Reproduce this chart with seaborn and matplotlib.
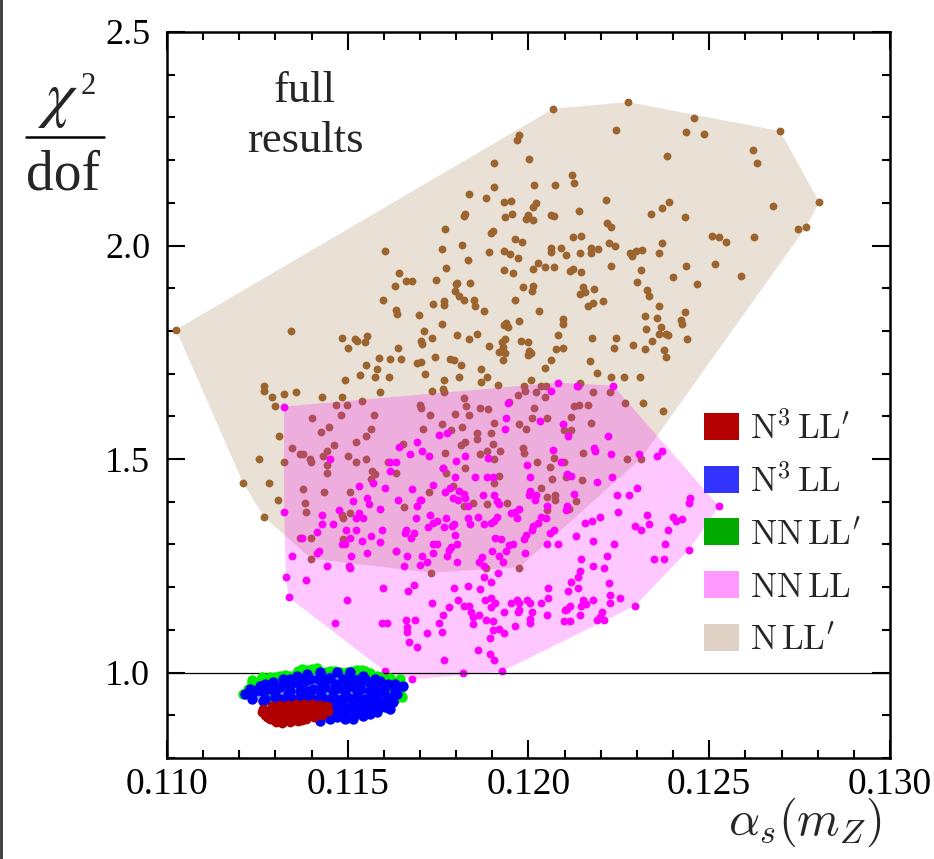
import numpy as np
import matplotlib
matplotlib.use("Agg")
import matplotlib.pyplot as plt
import seaborn as sns
from matplotlib.patches import Rectangle
from matplotlib.lines import Line2D
from matplotlib.ticker import MultipleLocator, FormatStrFormatter

# ---------------- data (alpha_s(mZ), chi2/dof) ----------------
nll_prime_points = [
    (0.12068,2.320),(0.12275,2.336),(0.12458,2.299),(0.12242,2.271),(0.12436,2.266),(0.12486,2.261),
    (0.12696,2.268),(0.11974,2.259),(0.11968,2.247),(0.12621,2.224),(0.12632,2.194),(0.12383,2.210),
    (0.12001,2.203),(0.11905,2.194),(0.12120,2.165),(0.12126,2.147),(0.12015,2.142),(0.12073,2.142),
    (0.11905,2.137),(0.11835,2.121),(0.11882,2.112),(0.11932,2.102),(0.11952,2.105),(0.12021,2.100),
    (0.12012,2.091),(0.12214,2.107),(0.12389,2.102),(0.12369,2.088),(0.12804,2.102),(0.12676,2.093),
    (0.12140,2.081),(0.12339,2.074),(0.12433,2.067),(0.11824,2.074),(0.11822,2.070),(0.11954,2.074),
    (0.11935,2.067),(0.11999,2.072),(0.11993,2.063),(0.12012,2.060),(0.12062,2.072),(0.12071,2.070),
    (0.12217,2.053),(0.12228,2.044),(0.12746,2.039),(0.12768,2.044),(0.11902,2.035),(0.11896,2.030),
    (0.11816,2.002),(0.11963,2.016),(0.11982,2.009),(0.12123,2.020),(0.12145,2.023),(0.12223,2.006),
    (0.12239,1.999),(0.12508,2.023),(0.12527,2.020),(0.12546,2.009),(0.12624,2.020),(0.12369,2.006),
    (0.11833,1.967),(0.11891,1.985),(0.11932,1.988),(0.11949,1.981),(0.11971,1.971),(0.12062,1.995),
    (0.12062,1.985),(0.12090,1.995),(0.12104,1.978),(0.12142,1.983),(0.12173,1.995),(0.12192,1.992),
    (0.12173,1.983),(0.12281,1.983),(0.12286,1.976),(0.12297,1.988),(0.12314,1.990),(0.12361,1.983),
    (0.12228,1.953),(0.12311,1.943),(0.12436,1.953),(0.12516,1.957),(0.12588,1.929),(0.12026,1.960),
    (0.12012,1.946),(0.12046,1.950),(0.12071,1.950),(0.11932,1.943),(0.11957,1.936),(0.12115,1.941),
    (0.12123,1.946),(0.12145,1.939),(0.11802,1.913),(0.11838,1.913),(0.11797,1.894),(0.11808,1.882),
    (0.11822,1.873),(0.11849,1.873),(0.11852,1.859),(0.11877,1.847),(0.11963,1.873),(0.11985,1.904),
    (0.12012,1.906),(0.12010,1.894),(0.12029,1.847),(0.12151,1.904),(0.12142,1.887),(0.12156,1.892),
    (0.12181,1.899),(0.12165,1.859),(0.12178,1.866),(0.12206,1.871),(0.12300,1.915),(0.12328,1.896),
    (0.12333,1.882),(0.12400,1.927),(0.12466,1.911),(0.12361,1.859),(0.12322,1.836),(0.12355,1.831),
    (0.12433,1.845),(0.12422,1.826),(0.12425,1.817),(0.12367,1.810),(0.12380,1.794),(0.12385,1.790),
    (0.12361,1.794),(0.12325,1.805),(0.12438,1.782),(0.12342,1.777),(0.12375,1.756),(0.12380,1.740),
    (0.12322,1.758),(0.12289,1.768),(0.12242,1.784),(0.12237,1.761),(0.12176,1.784),(0.12170,1.730),
    (0.12190,1.702),(0.12228,1.691),(0.12264,1.693),(0.12309,1.693),(0.12095,1.829),(0.12095,1.817),
    (0.12082,1.791),(0.12095,1.761),(0.12076,1.758),(0.12062,1.733),(0.12046,1.714),(0.12142,1.679),
    (0.11974,1.824),(0.11938,1.819),(0.11932,1.815),(0.11943,1.810),(0.11935,1.782),(0.11927,1.773),
    (0.11929,1.763),(0.11918,1.751),(0.11935,1.749),(0.11929,1.733),(0.11979,1.777),(0.11999,1.775),
    (0.12001,1.754),(0.11999,1.744),(0.12007,1.749),(0.11891,1.765),(0.11858,1.794),(0.11835,1.782),
    (0.11802,1.791),(0.11783,1.735),(0.11794,1.733),(0.11813,1.721),(0.11869,1.712),(0.11808,1.693),
    (0.11869,1.681),(0.11885,1.691),(0.11916,1.674),(0.12007,1.686),(0.11769,2.039),(0.11761,1.992),
    (0.11603,1.988),(0.11772,1.948),(0.11642,1.936),(0.11661,1.918),(0.11678,1.918),(0.11631,1.906),
    (0.11744,1.920),(0.11799,1.911),(0.11598,1.873),(0.11633,1.850),(0.11636,1.840),(0.11697,1.838),
    (0.11736,1.864),(0.11766,1.871),(0.11766,1.861),(0.11761,1.817),(0.11025,1.803),(0.11343,1.801),
    (0.11484,1.784),(0.11520,1.780),(0.11526,1.777),(0.11548,1.775),(0.11553,1.787),(0.11501,1.761),
    (0.11639,1.761),(0.11711,1.801),(0.11703,1.777),(0.11705,1.770),(0.11733,1.784),(0.11586,1.737),
    (0.11550,1.721),(0.11581,1.712),(0.11617,1.735),(0.11647,1.735),(0.11692,1.726),(0.11703,1.728),
    (0.11741,1.740),(0.11534,1.698),(0.11575,1.691),(0.11614,1.691),(0.11492,1.684),(0.11714,1.700),
    (0.11766,1.684),(0.11589,1.658),(0.11733,1.660),(0.11764,1.665),(0.11766,1.658),(0.11268,1.672),
    (0.11268,1.660),(0.11290,1.646),(0.11324,1.653),(0.11357,1.656),(0.11429,1.646),(0.11484,1.646),
    (0.11539,1.637),(0.11299,1.625),(0.11468,1.627),(0.11498,1.627),(0.11481,1.604),(0.11573,1.602),
    (0.11700,1.627),(0.11703,1.620),(0.11728,1.602),(0.11797,1.606),(0.11401,1.595),(0.11448,1.576),
    (0.11426,1.564),(0.11564,1.571),(0.11550,1.555),(0.11708,1.571),(0.11761,1.583),(0.11786,1.567),
    (0.11310,1.555),(0.11346,1.525),(0.11368,1.513),(0.11376,1.513),(0.11396,1.501),(0.11398,1.492),
    (0.11432,1.506),(0.11443,1.520),(0.11462,1.534),(0.11523,1.539),(0.11501,1.508),(0.11523,1.494),
    (0.11550,1.501),(0.11443,1.485),(0.11443,1.468),(0.11255,1.499),(0.11324,1.492),(0.11653,1.536),
    (0.11611,1.492),(0.11633,1.468),(0.11769,1.515),(0.11764,1.478),(0.11772,1.468),(0.11567,1.473),
    (0.11575,1.464),(0.11564,1.454),(0.11210,1.445),(0.11282,1.445),(0.11376,1.431),(0.11434,1.424),
    (0.11506,1.422),(0.11725,1.422),(0.11791,1.436),(0.11307,1.403),(0.11382,1.396),(0.11385,1.375),
    (0.11268,1.365),(0.11484,1.370),(0.11487,1.361),(0.11506,1.373),(0.11656,1.387),(0.11368,1.316),
    (0.11398,1.314),(0.11487,1.312),(0.11633,1.284),(0.11730,1.234),(0.11398,1.267),(0.11988,1.670),
    (0.11990,1.660),(0.12021,1.656),(0.12035,1.672),(0.12048,1.670),(0.12046,1.646),(0.11971,1.649),
    (0.11822,1.644),(0.12137,1.670),(0.12178,1.656),(0.12225,1.656),(0.12267,1.632),(0.12317,1.632),
    (0.12372,1.613),(0.11827,1.625),(0.11866,1.620),(0.11888,1.618),(0.11835,1.604),(0.11946,1.634),
    (0.12015,1.620),(0.12126,1.625),(0.12140,1.627),(0.12165,1.627),(0.12051,1.597),(0.12010,1.595),
    (0.11974,1.583),(0.11993,1.571),(0.11816,1.576),(0.11905,1.585),(0.11896,1.562),(0.11858,1.560),
    (0.11858,1.548),(0.11902,1.536),(0.11813,1.534),(0.11824,1.541),(0.12098,1.569),(0.12118,1.567),
    (0.12118,1.599),(0.12173,1.585),(0.11866,1.513),(0.11885,1.520),(0.11921,1.518),(0.11905,1.499),
    (0.11985,1.527),(0.11988,1.515),(0.12024,1.492),(0.12071,1.503),(0.12060,1.482),(0.12098,1.494),
    (0.12151,1.515),(0.12272,1.501),(0.12311,1.501),(0.11824,1.478),(0.11918,1.461),(0.11905,1.445),
    (0.12065,1.454),(0.12104,1.457),(0.12148,1.452),(0.12035,1.433),(0.12073,1.417),(0.12051,1.410),
    (0.12073,1.405),(0.12131,1.401),(0.11847,1.398),(0.11822,1.389),(0.11885,1.394),(0.11941,1.396),
    (0.12051,1.380),(0.12112,1.382),(0.11974,1.246),(0.11882,1.244),
]

nnll_points = [
    (0.12082,1.679),(0.12134,1.672),(0.12234,1.672),(0.12062,1.660),(0.11943,1.632),(0.11938,1.597),
    (0.11935,1.571),(0.12032,1.588),(0.12095,1.583),(0.12109,1.555),(0.12220,1.553),(0.11752,1.557),
    (0.11775,1.560),(0.11705,1.518),(0.11725,1.508),(0.11799,1.496),(0.11824,1.506),(0.11888,1.503),
    (0.12068,1.522),(0.12090,1.492),(0.12181,1.525),(0.12184,1.520),(0.12228,1.513),(0.12306,1.513),
    (0.12355,1.508),(0.12369,1.518),(0.11764,1.478),(0.11797,1.459),(0.11852,1.459),(0.11885,1.459),
    (0.11902,1.459),(0.11996,1.485),(0.12004,1.459),(0.12107,1.464),(0.12118,1.461),(0.12190,1.447),
    (0.12231,1.459),(0.11736,1.440),(0.11769,1.424),(0.11783,1.433),(0.11808,1.426),(0.11791,1.408),
    (0.11805,1.405),(0.11822,1.419),(0.11824,1.408),(0.11833,1.391),(0.11874,1.417),(0.11905,1.415),
    (0.11913,1.401),(0.11918,1.394),(0.12004,1.426),(0.12001,1.415),(0.12021,1.417),(0.12018,1.405),
    (0.12126,1.419),(0.12051,1.391),(0.12107,1.389),(0.12104,1.380),(0.12245,1.415),(0.12278,1.417),
    (0.12300,1.433),(0.12444,1.398),(0.12447,1.408),(0.12527,1.389),(0.11700,1.403),(0.11728,1.368),
    (0.11722,1.342),(0.11736,1.351),(0.11747,1.356),(0.11772,1.361),(0.11766,1.342),(0.11788,1.344),
    (0.11794,1.347),(0.11797,1.323),(0.11833,1.361),(0.11838,1.349),(0.11860,1.365),(0.11877,1.347),
    (0.11896,1.351),(0.11905,1.354),(0.11913,1.365),(0.11952,1.373),(0.11963,1.375),(0.11974,1.384),
    (0.11968,1.361),(0.12026,1.351),(0.12035,1.365),(0.12048,1.361),(0.12010,1.335),(0.12012,1.344),
    (0.11993,1.323),(0.12060,1.328),(0.12071,1.333),(0.12176,1.354),(0.12156,1.351),(0.12198,1.365),
    (0.12248,1.375),(0.12328,1.370),(0.12333,1.347),(0.12295,1.344),(0.12311,1.333),(0.12400,1.365),
    (0.12408,1.354),(0.12425,1.359),(0.12386,1.333),(0.11736,1.302),(0.11747,1.302),(0.11736,1.281),
    (0.11775,1.272),(0.11786,1.293),(0.11780,1.288),(0.11802,1.302),(0.11802,1.258),(0.11705,1.274),
    (0.11719,1.260),(0.11700,1.253),(0.11899,1.284),(0.11907,1.314),(0.11924,1.312),(0.11938,1.284),
    (0.11946,1.298),(0.11957,1.302),(0.11990,1.281),(0.11988,1.312),(0.12051,1.300),(0.12082,1.300),
    (0.12131,1.319),(0.12178,1.309),(0.12237,1.300),(0.12378,1.300),(0.12444,1.288),(0.11863,1.258),
    (0.11871,1.270),(0.11877,1.249),(0.11918,1.272),(0.11929,1.260),(0.11916,1.234),(0.12145,1.265),
    (0.12217,1.272),(0.12178,1.249),(0.12209,1.246),(0.12347,1.267),(0.12375,1.265),(0.11877,1.223),
    (0.11896,1.213),(0.11794,1.197),(0.11833,1.202),(0.11866,1.195),(0.11880,1.171),(0.11896,1.174),
    (0.11896,1.153),(0.11907,1.164),(0.11932,1.143),(0.11952,1.164),(0.11968,1.169),(0.11974,1.164),
    (0.11971,1.141),(0.11974,1.146),(0.11996,1.169),(0.12004,1.164),(0.12010,1.141),(0.12004,1.125),
    (0.12004,1.115),(0.12035,1.164),(0.12054,1.174),(0.12054,1.197),(0.12051,1.134),(0.12109,1.192),
    (0.12118,1.213),(0.12137,1.225),(0.12142,1.239),(0.12137,1.198),(0.12151,1.171),(0.12145,1.155),
    (0.12159,1.160),(0.12178,1.169),(0.12115,1.157),(0.12107,1.148),(0.12101,1.146),(0.12142,1.134),
    (0.12098,1.120),(0.12115,1.120),(0.12190,1.122),(0.12198,1.129),(0.12203,1.141),(0.12209,1.122),
    (0.12223,1.209),(0.12225,1.181),(0.12225,1.164),(0.12253,1.174),(0.12295,1.157),(0.11805,1.171),
    (0.11822,1.155),(0.11835,1.155),(0.11841,1.141),(0.11847,1.129),(0.11847,1.113),(0.11863,1.134),
    (0.11882,1.122),(0.11902,1.120),(0.11902,1.099),(0.11918,1.103),(0.11932,1.092),(0.11893,1.082),
    (0.11963,1.108),(0.11780,1.153),(0.11764,1.134),(0.11733,1.162),(0.11752,1.115),(0.11761,1.096),
    (0.11719,1.092),(0.11860,1.052),(0.11893,1.043),(0.11905,1.029),(0.11766,1.029),(0.11819,0.998),
    (0.11927,1.003),(0.11324,1.623),(0.11642,1.529),(0.11672,1.513),(0.11692,1.539),(0.11451,1.501),
    (0.11617,1.494),(0.11633,1.492),(0.11617,1.473),(0.11531,1.436),(0.11603,1.433),(0.11678,1.431),
    (0.11570,1.445),(0.11515,1.401),(0.11553,1.408),(0.11559,1.394),(0.11639,1.403),(0.11703,1.403),
    (0.11692,1.391),(0.11589,1.382),(0.11689,1.363),(0.11531,1.373),(0.11523,1.361),(0.11542,1.361),
    (0.11476,1.380),(0.11429,1.370),(0.11429,1.347),(0.11459,1.347),(0.11324,1.377),(0.11415,1.330),
    (0.11495,1.335),(0.11523,1.333),(0.11506,1.316),(0.11539,1.307),(0.11564,1.321),(0.11589,1.305),
    (0.11595,1.335),(0.11661,1.335),(0.11658,1.328),(0.11675,1.316),(0.11683,1.328),(0.11373,1.314),
    (0.11484,1.300),(0.11492,1.300),(0.11415,1.281),(0.11420,1.284),(0.11346,1.274),(0.11509,1.274),
    (0.11553,1.281),(0.11633,1.284),(0.11664,1.272),(0.11443,1.249),(0.11503,1.249),(0.11506,1.244),
    (0.11656,1.249),(0.11329,1.223),(0.11385,1.216),(0.11598,1.197),(0.11667,1.190),(0.11683,1.204),
    (0.11337,1.176),(0.11498,1.171),(0.11465,1.115),(0.11595,1.115),(0.11609,1.115),(0.11661,1.122),
    (0.11686,1.122),(0.11664,1.106),(0.11664,1.094),(0.11669,1.071),(0.11692,1.061),(0.11603,1.003),
    (0.11678,0.984),
]

nnll_prime_points = [
    (0.11210,0.951),(0.11235,0.982),(0.11263,0.989),(0.11285,0.989),(0.11313,0.991),(0.11337,0.991),
    (0.11362,1.003),(0.11373,1.008),(0.11401,1.008),(0.11415,1.010),(0.11451,1.003),(0.11479,1.001),
    (0.11512,1.003),(0.11539,1.005),(0.11548,1.003),(0.11581,0.991),(0.11611,0.984),(0.11645,0.984),
    (0.11650,0.944),(0.11609,0.926),(0.11581,0.909),(0.11243,0.970),(0.11224,0.961),(0.11368,0.996),
    (0.11492,0.996),(0.11617,0.961),(0.11534,0.909),(0.11451,0.900),(0.11631,0.937),(0.11285,0.937),
    (0.11235,0.975),(0.11263,0.984),(0.11299,0.989),(0.11326,0.994),(0.11360,0.998),(0.11387,1.005),
    (0.11437,1.001),(0.11465,1.003),(0.11498,1.001),(0.11526,1.005),(0.11562,0.998),(0.11589,0.989),
    (0.11617,0.987),(0.11640,0.975),(0.11645,0.958),
]

n3ll_points = [
    (0.11216,0.949),(0.11230,0.961),(0.11257,0.968),(0.11266,0.933),(0.11293,0.977),(0.11321,0.984),
    (0.11360,0.991),(0.11387,0.996),(0.11423,1.001),(0.11470,1.001),(0.11506,1.001),(0.11542,0.991),
    (0.11589,0.980),(0.11631,0.973),(0.11653,0.968),(0.11636,0.949),(0.11625,0.930),(0.11617,0.914),
    (0.11581,0.907),(0.11542,0.898),(0.11515,0.891),(0.11470,0.895),(0.11423,0.886),(0.11459,0.914),
    (0.11243,0.956),(0.11279,0.961),(0.11313,0.966),(0.11346,0.975),(0.11382,0.980),(0.11418,0.984),
    (0.11451,0.987),(0.11487,0.984),(0.11523,0.982),(0.11562,0.975),(0.11600,0.961),(0.11299,0.944),
    (0.11335,0.949),(0.11368,0.956),(0.11404,0.961),(0.11437,0.966),(0.11473,0.963),(0.11506,0.968),
    (0.11537,0.961),(0.11575,0.954),(0.11609,0.944),(0.11326,0.930),(0.11362,0.937),(0.11396,0.942),
    (0.11429,0.944),(0.11462,0.940),(0.11498,0.944),(0.11528,0.940),(0.11562,0.935),(0.11592,0.928),
    (0.11409,0.923),(0.11445,0.928),(0.11484,0.923),(0.11520,0.919),(0.11556,0.916),(0.11492,0.905),
    (0.11396,0.902),(0.11368,0.895),(0.11437,0.902),
    (0.11340,0.984),(0.11368,0.984),(0.11396,0.984),(0.11437,0.984),(0.11506,0.984),(0.11548,0.984),
    (0.11575,0.984),(0.11271,0.973),(0.11326,0.973),(0.11368,0.973),(0.11429,0.973),(0.11465,0.973),
    (0.11498,0.973),(0.11534,0.973),(0.11575,0.973),(0.11611,0.973),(0.11263,0.956),(0.11299,0.956),
    (0.11340,0.956),(0.11387,0.956),(0.11423,0.956),(0.11459,0.956),(0.11492,0.956),(0.11526,0.956),
    (0.11562,0.956),(0.11598,0.956),(0.11631,0.956),(0.11235,0.937),(0.11271,0.937),(0.11313,0.937),
    (0.11346,0.937),(0.11382,0.937),(0.11418,0.937),(0.11451,0.937),(0.11484,0.937),(0.11512,0.937),
    (0.11548,0.937),(0.11581,0.937),(0.11617,0.937),(0.11382,0.919),(0.11429,0.919),(0.11470,0.919),
    (0.11506,0.919),(0.11539,0.919),(0.11575,0.919),(0.11603,0.919),(0.11418,0.902),(0.11465,0.902),
    (0.11520,0.902),(0.11562,0.902),(0.11451,0.891),(0.11492,0.891),
]

n3ll_prime_points = [
    (0.11266,0.914),(0.11271,0.900),(0.11285,0.891),(0.11302,0.884),(0.11318,0.881),(0.11340,0.884),
    (0.11362,0.886),(0.11384,0.891),(0.11406,0.895),(0.11429,0.900),(0.11445,0.909),(0.11442,0.921),
    (0.11423,0.923),(0.11401,0.926),(0.11379,0.926),(0.11357,0.926),(0.11335,0.923),(0.11313,0.923),
    (0.11290,0.921),(0.11279,0.909),(0.11299,0.909),(0.11321,0.914),(0.11343,0.914),(0.11365,0.916),
    (0.11387,0.916),(0.11409,0.914),(0.11426,0.912),(0.11307,0.900),(0.11329,0.902),(0.11351,0.905),
    (0.11373,0.907),(0.11398,0.909),(0.11324,0.891),(0.11346,0.893),(0.11368,0.895),(0.11393,0.898),
    (0.11263,0.907),(0.11276,0.895),(0.11296,0.888),(0.11351,0.888),(0.11373,0.890),(0.11415,0.905),
    (0.11435,0.914),(0.11307,0.919),(0.11329,0.919),(0.11395,0.921),
]

legend_labels = [r"$\mathrm{N}^3\,\mathrm{LL}'$", r"$\mathrm{N}^3\,\mathrm{LL}$",
                 r"$\mathrm{NN\,LL}'$", r"$\mathrm{NN\,LL}$", r"$\mathrm{N\,LL}'$"]
legend_colors = ["#b30000", "#3333ff", "#00aa00", "#ff99ff", "#dfd2c4"]
x_ticks = [0.110, 0.115, 0.120, 0.125, 0.130]
y_ticks = [1.0, 1.5, 2.0, 2.5]
reference_chi2 = 1.0

# ---------------- helpers ----------------
def convex_hull(points):
    pts = sorted(set(points))
    def cross(o, a, b):
        return (a[0]-o[0])*(b[1]-o[1]) - (a[1]-o[1])*(b[0]-o[0])
    lower, upper = [], []
    for p in pts:
        while len(lower) >= 2 and cross(lower[-2], lower[-1], p) <= 0:
            lower.pop()
        lower.append(p)
    for p in reversed(pts):
        while len(upper) >= 2 and cross(upper[-2], upper[-1], p) <= 0:
            upper.pop()
        upper.append(p)
    h = np.array(lower[:-1] + upper[:-1])
    return h[:, 0], h[:, 1]

def xy(points):
    a = np.array(points)
    return a[:, 0], a[:, 1]

# ---------------- style ----------------
sns.set_style("ticks")
plt.rcParams["font.family"] = ["Liberation Serif", "DejaVu Serif"]
plt.rcParams["mathtext.fontset"] = "cm"

W, H = 934, 859
fig = plt.figure(figsize=(W/100, H/100), dpi=100)
ax = fig.add_axes([167/W, 1-758/H, 723/W, 726/H])

series = [
    # points, dot colour, hull colour, hull alpha, dot size
    (nll_prime_points, "#9c642f", "#e9e0d6", 1.0, 32),
    (nnll_points, "#ff00ff", "#ff00ff", 0.22, 32),
    (nnll_prime_points, "#00ee00", "#22cc33", 0.5, 56),
    (n3ll_points, "#0000ff", "#3344ff", 0.45, 56),
    (n3ll_prime_points, "#b00000", "#b00000", 1.0, 50),
]
z = 1
for pts, dot_c, hull_c, hull_a, size in series:
    hx, hy = convex_hull(pts)
    ax.fill(hx, hy, color=hull_c, alpha=hull_a, lw=0, zorder=z)
    px, py = xy(pts)
    sns.scatterplot(x=px, y=py, color=dot_c, s=size, linewidth=0, ax=ax,
                    zorder=z+0.5, legend=False)
    z += 1
    if pts is nnll_points:
        ax.axhline(reference_chi2, color="black", lw=0.9, zorder=z)
        z += 1

ax.set_xlim(0.110, 0.130)
ax.set_ylim(0.8, 2.5)
ax.set_xticks(x_ticks)
ax.set_yticks(y_ticks)
ax.xaxis.set_minor_locator(MultipleLocator(0.001))
ax.yaxis.set_minor_locator(MultipleLocator(0.1))
ax.xaxis.set_major_formatter(FormatStrFormatter("%.3f"))
ax.yaxis.set_major_formatter(FormatStrFormatter("%.1f"))
ax.set_xlabel("")
ax.set_ylabel("")
ax.tick_params(which="both", direction="in", top=True, right=True, width=1.5,
               color="black", labelcolor="black")
ax.tick_params(which="major", length=13)
ax.tick_params(which="minor", length=6)
ax.tick_params(axis="x", labelsize=27, pad=7)
ax.tick_params(axis="y", labelsize=26, pad=12)
for s in ax.spines.values():
    s.set_linewidth(1.8)
    s.set_color("black")

# legend: coloured swatches with labels, stacked at the right of the plot
def ax_x(px):
    return (px - 167) / 723
def ax_y(py):
    return (758 - py) / 726
row_step = 52.7
for i, (lab, col) in enumerate(zip(legend_labels, legend_colors)):
    top = 413 + row_step * i
    ax.add_patch(Rectangle((ax_x(704), ax_y(top + 27)), 35/723, 27/726,
                           transform=ax.transAxes, facecolor=col, edgecolor="none",
                           zorder=10, clip_on=False))
    ax.text(ax_x(750), ax_y(top + 26), lab, transform=ax.transAxes, ha="left",
            va="baseline", fontsize=25, zorder=10)

# in-plot annotation
ax.text(ax_x(305), ax_y(102), "full", transform=ax.transAxes, ha="center", va="baseline",
        fontsize=32)
ax.text(ax_x(305), ax_y(152), "results", transform=ax.transAxes, ha="center", va="baseline",
        fontsize=32)

# y label as a stacked fraction
fig.text(58.5/W, 1-101/H, r"$\chi$", ha="center", va="center", fontsize=46,
         math_fontfamily="stix")
fig.text(88/W, 1-87/H, "2", ha="center", va="center", fontsize=22)
fig.add_artist(Line2D([26/W, 104/W], [1-137/H, 1-137/H], color="black", lw=1.8))
fig.text(63.5/W, 1-176/H, "dof", ha="center", va="center", fontsize=40)

# x label
fig.text(882/W, 1-835/H, r"$\alpha_s(m_Z)$", ha="right", va="baseline", fontsize=35)

# thin dark border at the left edge of the picture
fig.add_artist(Rectangle((0, 0), 2.5/W, 1, transform=fig.transFigure, color="#444444", lw=0))

fig.savefig("out.png", dpi=100)
